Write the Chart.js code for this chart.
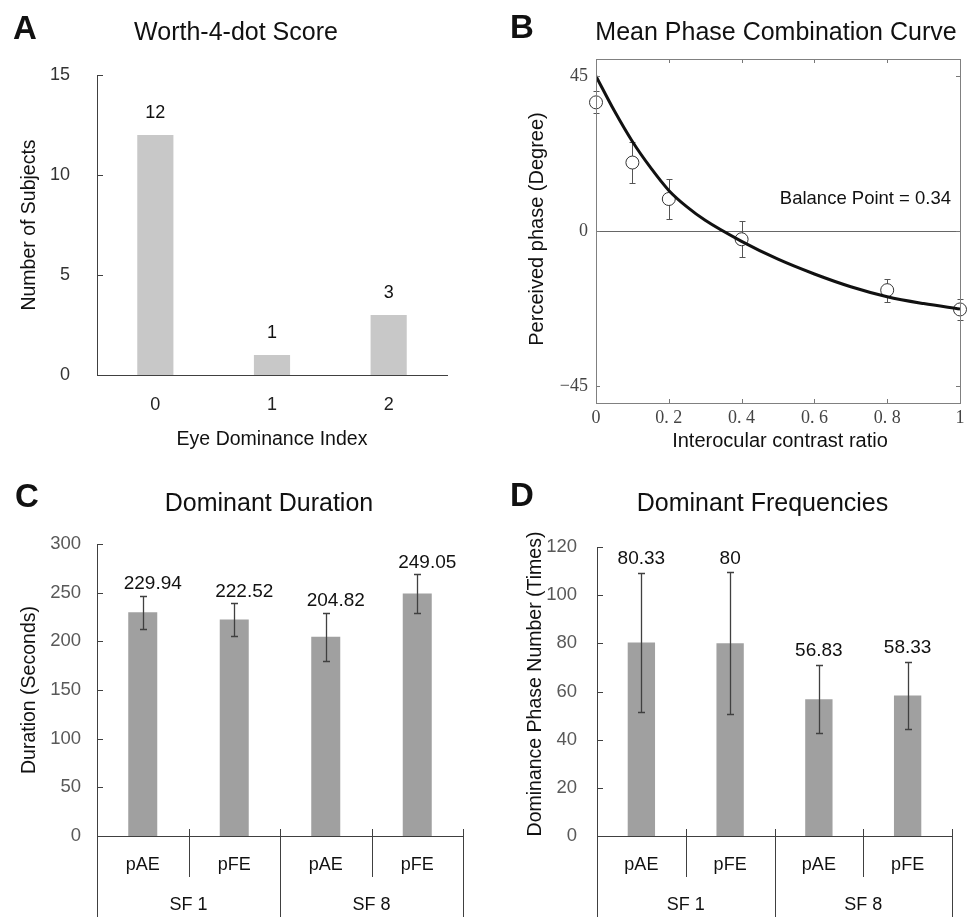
<!DOCTYPE html>
<html><head><meta charset="utf-8">
<script src="https://cdn.jsdelivr.net/npm/chart.js@4.4.1/dist/chart.umd.min.js"></script>
<style>
html,body{margin:0;padding:0;background:#fff;}
body{width:969px;height:917px;position:relative;overflow:hidden;}
canvas{position:absolute;}
</style></head><body>
<canvas id="cA" width="480" height="460" style="left:0;top:0;width:480px;height:460px"></canvas>
<canvas id="cB" width="489" height="460" style="left:480px;top:0;width:489px;height:460px"></canvas>
<canvas id="cC" width="480" height="457" style="left:0;top:460px;width:480px;height:457px"></canvas>
<canvas id="cD" width="489" height="457" style="left:480px;top:460px;width:489px;height:457px"></canvas>
<script>
// ---------------- data ----------------
// Panel A: Worth-4-dot score
const wCats = ['0', '1', '2'];
const wCounts = [12, 1, 3];
const wYTicks = [0, 5, 10, 15];

// Panel B: mean phase combination curve
const phaseX = [0, 0.1, 0.2, 0.4, 0.8, 1.0];
const phaseY = [37.4, 19.9, 9.3, -2.4, -17.2, -22.8];
const phaseErr = [3.2, 6.0, 5.7, 5.2, 3.3, 3.1];
const fitX = [0, 0.05, 0.1, 0.15, 0.2, 0.25, 0.3, 0.4, 0.5, 0.6, 0.7, 0.8, 0.9, 1.0];
const fitY = [45, 35, 26, 18.4, 11.8, 7.0, 3.1, -3.0, -8.2, -12.5, -16.2, -19.1, -21.1, -22.7];
const phaseXTicks = [0, 0.2, 0.4, 0.6, 0.8, 1];
const phaseXTickLabels = ['0', '0. 2', '0. 4', '0. 6', '0. 8', '1'];
const phaseYTicks = [-45, 0, 45];
const phaseYTickLabels = ['\u221245', '0', '45'];
const balancePoint = 0.34;

// Panels C & D
const conds = ['pAE', 'pFE', 'pAE', 'pFE'];
const sfGroups = ['SF 1', 'SF 8'];
const condGroup = [0, 0, 1, 1];
const durMean = [229.94, 222.52, 204.82, 249.05];
const durErr = [17.1, 17.0, 24.7, 20.2];
const durYTicks = [0, 50, 100, 150, 200, 250, 300];
const freqMean = [80.33, 80, 56.83, 58.33];
const freqErr = [28.9, 29.5, 14.2, 13.9];
const freqYTicks = [0, 20, 40, 60, 80, 100, 120];

// ---------------- helpers / plugins ----------------
const SANS = "'Liberation Sans', Arial, sans-serif";
const SERIF = "'Liberation Serif', 'Times New Roman', serif";

const panelText = {
  id: 'panelText',
  afterDraw(chart, args, o) {
    const ctx = chart.ctx;
    (o.items || []).forEach(it => {
      ctx.save();
      ctx.font = it.font;
      ctx.fillStyle = it.color || '#111';
      ctx.textAlign = it.align || 'center';
      ctx.textBaseline = it.baseline || 'alphabetic';
      let x = it.x, y = it.y;
      if (it.sx !== undefined) x = chart.scales.x.getPixelForValue(it.sx);
      if (it.sy !== undefined) y = chart.scales.y.getPixelForValue(it.sy);
      ctx.translate(x, y);
      if (it.rot) ctx.rotate(it.rot);
      ctx.fillText(it.text, 0, 0);
      ctx.restore();
    });
  }
};

const innerTicks = {
  id: 'innerTicks',
  afterDraw(chart, args, o) {
    if (!o.enabled) return;
    const ctx = chart.ctx, ca = chart.chartArea, L = o.len;
    ctx.save();
    ctx.strokeStyle = o.color; ctx.lineWidth = 1;
    ctx.beginPath();
    const ys = chart.scales.y;
    ys.ticks.forEach(t => {
      if (o.skipZero && t.value === 0) return;
      const py = Math.round(ys.getPixelForValue(t.value)) + 0.5;
      ctx.moveTo(ca.left, py); ctx.lineTo(ca.left + L, py);
      if (o.right) { ctx.moveTo(ca.right, py); ctx.lineTo(ca.right - L, py); }
    });
    if (o.xTicks) {
      const xs = chart.scales.x;
      xs.ticks.forEach(t => {
        const px = Math.round(xs.getPixelForValue(t.value)) + 0.5;
        ctx.moveTo(px, ca.bottom); ctx.lineTo(px, ca.bottom - L);
        ctx.moveTo(px, ca.top); ctx.lineTo(px, ca.top + L);
      });
    }
    ctx.stroke();
    ctx.restore();
  }
};

function drawErr(chart, o) {
  const ctx = chart.ctx, ys = chart.scales.y;
  const meta = chart.getDatasetMeta(o.dataset || 0);
  ctx.save();
  ctx.strokeStyle = o.color; ctx.lineWidth = o.width;
  ctx.beginPath();
  meta.data.forEach((el, i) => {
    const x = Math.round(el.x) + 0.5;
    const y1 = Math.round(ys.getPixelForValue(o.values[i] + o.err[i])) + 0.5;
    const y2 = Math.round(ys.getPixelForValue(o.values[i] - o.err[i])) + 0.5;
    ctx.moveTo(x, y1); ctx.lineTo(x, y2);
    ctx.moveTo(x - o.cap, y1); ctx.lineTo(x + o.cap, y1);
    ctx.moveTo(x - o.cap, y2); ctx.lineTo(x + o.cap, y2);
  });
  ctx.stroke();
  ctx.restore();
}
const errorBars = {
  id: 'errorBars',
  beforeDatasetsDraw(chart, args, o) { if (o.values && o.before) drawErr(chart, o); },
  afterDatasetsDraw(chart, args, o) { if (o.values && !o.before) drawErr(chart, o); }
};

const valueLabels = {
  id: 'valueLabels',
  afterDatasetsDraw(chart, args, o) {
    if (!o.values) return;
    const meta = chart.getDatasetMeta(0), ys = chart.scales.y, ctx = chart.ctx;
    ctx.save();
    ctx.font = o.font; ctx.fillStyle = o.color || '#111';
    ctx.textAlign = 'center'; ctx.textBaseline = 'middle';
    meta.data.forEach((el, i) => {
      const top = o.err ? ys.getPixelForValue(o.values[i] + o.err[i]) : ys.getPixelForValue(o.values[i]);
      ctx.fillText(String(o.values[i]), el.x + (o.dx || 0), top - o.dy);
    });
    ctx.restore();
  }
};

const frame = {
  id: 'frame',
  afterDraw(chart, args, o) {
    if (!o.color) return;
    const ctx = chart.ctx, ca = chart.chartArea;
    ctx.save(); ctx.strokeStyle = o.color; ctx.lineWidth = 1;
    ctx.strokeRect(Math.round(ca.left) + 0.5, Math.round(ca.top) + 0.5,
      Math.round(ca.right - ca.left), Math.round(ca.bottom - ca.top));
    ctx.restore();
  }
};

const groupAxis = {
  id: 'groupAxis',
  afterDraw(chart, args, o) {
    if (!o.groups) return;
    const ctx = chart.ctx, xs = chart.scales.x, ca = chart.chartArea, H = chart.height;
    const n = xs.getLabels().length;
    const px = i => xs.getPixelForValue(i);
    const half = (px(1) - px(0)) / 2;
    ctx.save();
    ctx.strokeStyle = o.color; ctx.lineWidth = 1;
    ctx.beginPath();
    for (let b = 0; b <= n; b++) {
      const x = Math.round(b < n ? px(b) - half : px(n - 1) + half) + 0.5;
      const isGroup = b === 0 || b === n || o.groupOf[b] !== o.groupOf[b - 1];
      const yTop = b === 0 ? ca.bottom : ca.bottom - o.up;
      const yBot = isGroup ? H : ca.bottom + o.down;
      ctx.moveTo(x, yTop); ctx.lineTo(x, yBot);
    }
    ctx.stroke();
    ctx.font = o.font; ctx.fillStyle = o.textColor;
    ctx.textAlign = 'center'; ctx.textBaseline = 'middle';
    o.groups.forEach((g, gi) => {
      const idx = [];
      o.groupOf.forEach((v, i) => { if (v === gi) idx.push(i); });
      const c = (px(idx[0]) - half + px(idx[idx.length - 1]) + half) / 2;
      ctx.fillText(g, c, o.labelY);
    });
    ctx.restore();
  }
};

const base = {
  responsive: false, animation: false, devicePixelRatio: 1,
  events: []
};

// ---------------- Panel A ----------------
new Chart(document.getElementById('cA'), {
  type: 'bar',
  data: { labels: wCats, datasets: [{ data: wCounts, backgroundColor: '#c8c8c8', barPercentage: 0.31, categoryPercentage: 1 }] },
  options: Object.assign({}, base, {
    layout: { padding: { left: 0, top: 75, right: 33, bottom: 0 } },
    plugins: {
      legend: { display: false }, tooltip: { enabled: false },
      panelText: { items: [
        { text: 'A', x: 13, y: 38.5, align: 'left', font: 'bold 33px ' + SANS, color: '#111' },
        { text: 'Worth-4-dot Score', x: 236, y: 40, font: '25px ' + SANS, color: '#111' },
        { text: 'Number of Subjects', x: 35, y: 225, rot: -Math.PI / 2, font: '19.5px ' + SANS, color: '#111' },
        { text: 'Eye Dominance Index', x: 272, y: 445, font: '19.5px ' + SANS, color: '#111' }
      ] },
      valueLabels: { values: wCounts, dy: 22, font: '18px ' + SANS, color: '#111' },
      innerTicks: { enabled: true, len: 6, color: '#404040', skipZero: true }
    },
    scales: {
      x: { grid: { display: false, drawTicks: false }, border: { color: '#404040' },
        ticks: { font: { family: SANS, size: 18 }, color: '#222', padding: 19 },
        afterFit: s => { s.height = 85; } },
      y: { min: 0, max: 15, grid: { display: false, drawTicks: false }, border: { color: '#404040' },
        ticks: { font: { family: SANS, size: 18 }, color: '#333', padding: 27 },
        afterBuildTicks: s => { s.ticks = wYTicks.map(v => ({ value: v })); },
        afterFit: s => { s.width = 97; } }
    }
  }),
  plugins: [panelText, valueLabels, innerTicks]
});

// ---------------- Panel B ----------------
new Chart(document.getElementById('cB'), {
  type: 'line',
  data: { datasets: [
    { label: 'fit', data: fitX.map((x, i) => ({ x: x, y: fitY[i] })), borderColor: '#111', borderWidth: 3,
      pointRadius: 0, cubicInterpolationMode: 'monotone', fill: false },
    { label: 'mean', data: phaseX.map((x, i) => ({ x: x, y: phaseY[i] })), showLine: false, clip: false,
      pointRadius: 6.5, pointBackgroundColor: '#fff', pointBorderColor: '#333', pointBorderWidth: 1 }
  ] },
  options: Object.assign({}, base, {
    layout: { padding: { left: 0, top: 59, right: 5, bottom: 0 } },
    plugins: {
      legend: { display: false }, tooltip: { enabled: false },
      panelText: { items: [
        { text: 'B', x: 30, y: 37.5, align: 'left', font: 'bold 33px ' + SANS, color: '#111' },
        { text: 'Mean Phase Combination Curve', x: 296, y: 40, font: '25px ' + SANS, color: '#111' },
        { text: 'Perceived phase (Degree)', x: 63, y: 229, rot: -Math.PI / 2, font: '20px ' + SANS, color: '#111' },
        { text: 'Interocular contrast ratio', x: 300, y: 446.5, font: '20px ' + SANS, color: '#111' },
        { text: 'Balance Point = ' + balancePoint.toFixed(2), sx: 0.505, sy: 7.8, align: 'left', font: '18.5px ' + SANS, color: '#111' }
      ] },
      errorBars: { before: true, dataset: 1, values: phaseY, err: phaseErr, color: '#555', width: 1, cap: 3 },
      innerTicks: { enabled: true, len: 4, color: '#777', right: true, xTicks: true },
      frame: { color: '#808080' }
    },
    scales: {
      x: { type: 'linear', min: 0, max: 1, grid: { display: false, drawTicks: false }, border: { display: false },
        ticks: { font: { family: SERIF, size: 18 }, color: '#444', padding: 4.5,
          callback: (v, i) => phaseXTickLabels[i] },
        afterBuildTicks: s => { s.ticks = phaseXTicks.map(v => ({ value: v })); },
        afterFit: s => { s.height = 57; } },
      y: { type: 'linear', min: -50, max: 50,
        grid: { display: true, drawTicks: false, lineWidth: 1,
          color: c => (c.tick && c.tick.value === 0) ? '#666' : 'rgba(0,0,0,0)' },
        border: { display: false },
        ticks: { font: { family: SERIF, size: 18 }, color: '#444', padding: 8,
          callback: (v, i) => phaseYTickLabels[i] },
        afterBuildTicks: s => { s.ticks = phaseYTicks.map(v => ({ value: v })); },
        afterFit: s => { s.width = 116; } }
    }
  }),
  plugins: [errorBars, panelText, innerTicks, frame]
});

// ---------------- Panels C & D ----------------
function groupedBar(id, opts) {
  return new Chart(document.getElementById(id), {
    type: 'bar',
    data: { labels: conds, datasets: [{ data: opts.values, backgroundColor: '#a0a0a0', barPercentage: opts.barPct, categoryPercentage: 1 }] },
    options: Object.assign({}, base, {
      layout: { padding: { left: 0, top: opts.top, right: opts.right, bottom: 0 } },
      plugins: {
        legend: { display: false }, tooltip: { enabled: false },
        panelText: { items: opts.texts },
        valueLabels: { values: opts.values, err: opts.err, dy: opts.labelDy, dx: opts.labelDx, font: '19px ' + SANS, color: '#111' },
        errorBars: { values: opts.values, err: opts.err, color: '#404040', width: 1.3, cap: 3.5 },
        innerTicks: { enabled: true, len: 6, color: '#404040', skipZero: true },
        groupAxis: { groups: sfGroups, groupOf: condGroup, up: 7, down: 41, color: '#404040',
          font: '18px ' + SANS, textColor: '#111', labelY: 445 }
      },
      scales: {
        x: { grid: { display: false, drawTicks: false }, border: { color: '#404040' },
          ticks: { font: { family: SANS, size: 18 }, color: '#111', padding: 18 },
          afterFit: s => { s.height = 81; } },
        y: { min: 0, max: opts.max, grid: { display: false, drawTicks: false }, border: { color: '#404040' },
          ticks: { font: { family: SANS, size: 18.5 }, color: '#595959', padding: opts.tickPad },
          afterBuildTicks: s => { s.ticks = opts.yTicks.map(v => ({ value: v })); },
          afterFit: s => { s.width = opts.left; } }
      }
    }),
    plugins: [errorBars, valueLabels, panelText, innerTicks, groupAxis]
  });
}

groupedBar('cC', {
  values: durMean, err: durErr, yTicks: durYTicks, max: 300,
  top: 84, right: 17, left: 97, tickPad: 16, barPct: 0.317, labelDy: 11.5, labelDx: 10,
  texts: [
    { text: 'C', x: 15, y: 46.5, align: 'left', font: 'bold 33px ' + SANS, color: '#111' },
    { text: 'Dominant Duration', x: 269, y: 50.7, font: '25px ' + SANS, color: '#111' },
    { text: 'Duration (Seconds)', x: 35, y: 230, rot: -Math.PI / 2, font: '19.5px ' + SANS, color: '#111' }
  ]
});

groupedBar('cD', {
  values: freqMean, err: freqErr, yTicks: freqYTicks, max: 120,
  top: 87, right: 17, left: 117, tickPad: 20, barPct: 0.308, labelDy: 14, labelDx: 0,
  texts: [
    { text: 'D', x: 30, y: 45.7, align: 'left', font: 'bold 33px ' + SANS, color: '#111' },
    { text: 'Dominant Frequencies', x: 282.5, y: 50.7, font: '25px ' + SANS, color: '#111' },
    { text: 'Dominance Phase Number (Times)', x: 60.5, y: 224, rot: -Math.PI / 2, font: '19.5px ' + SANS, color: '#111' }
  ]
});
</script>
</body></html>
